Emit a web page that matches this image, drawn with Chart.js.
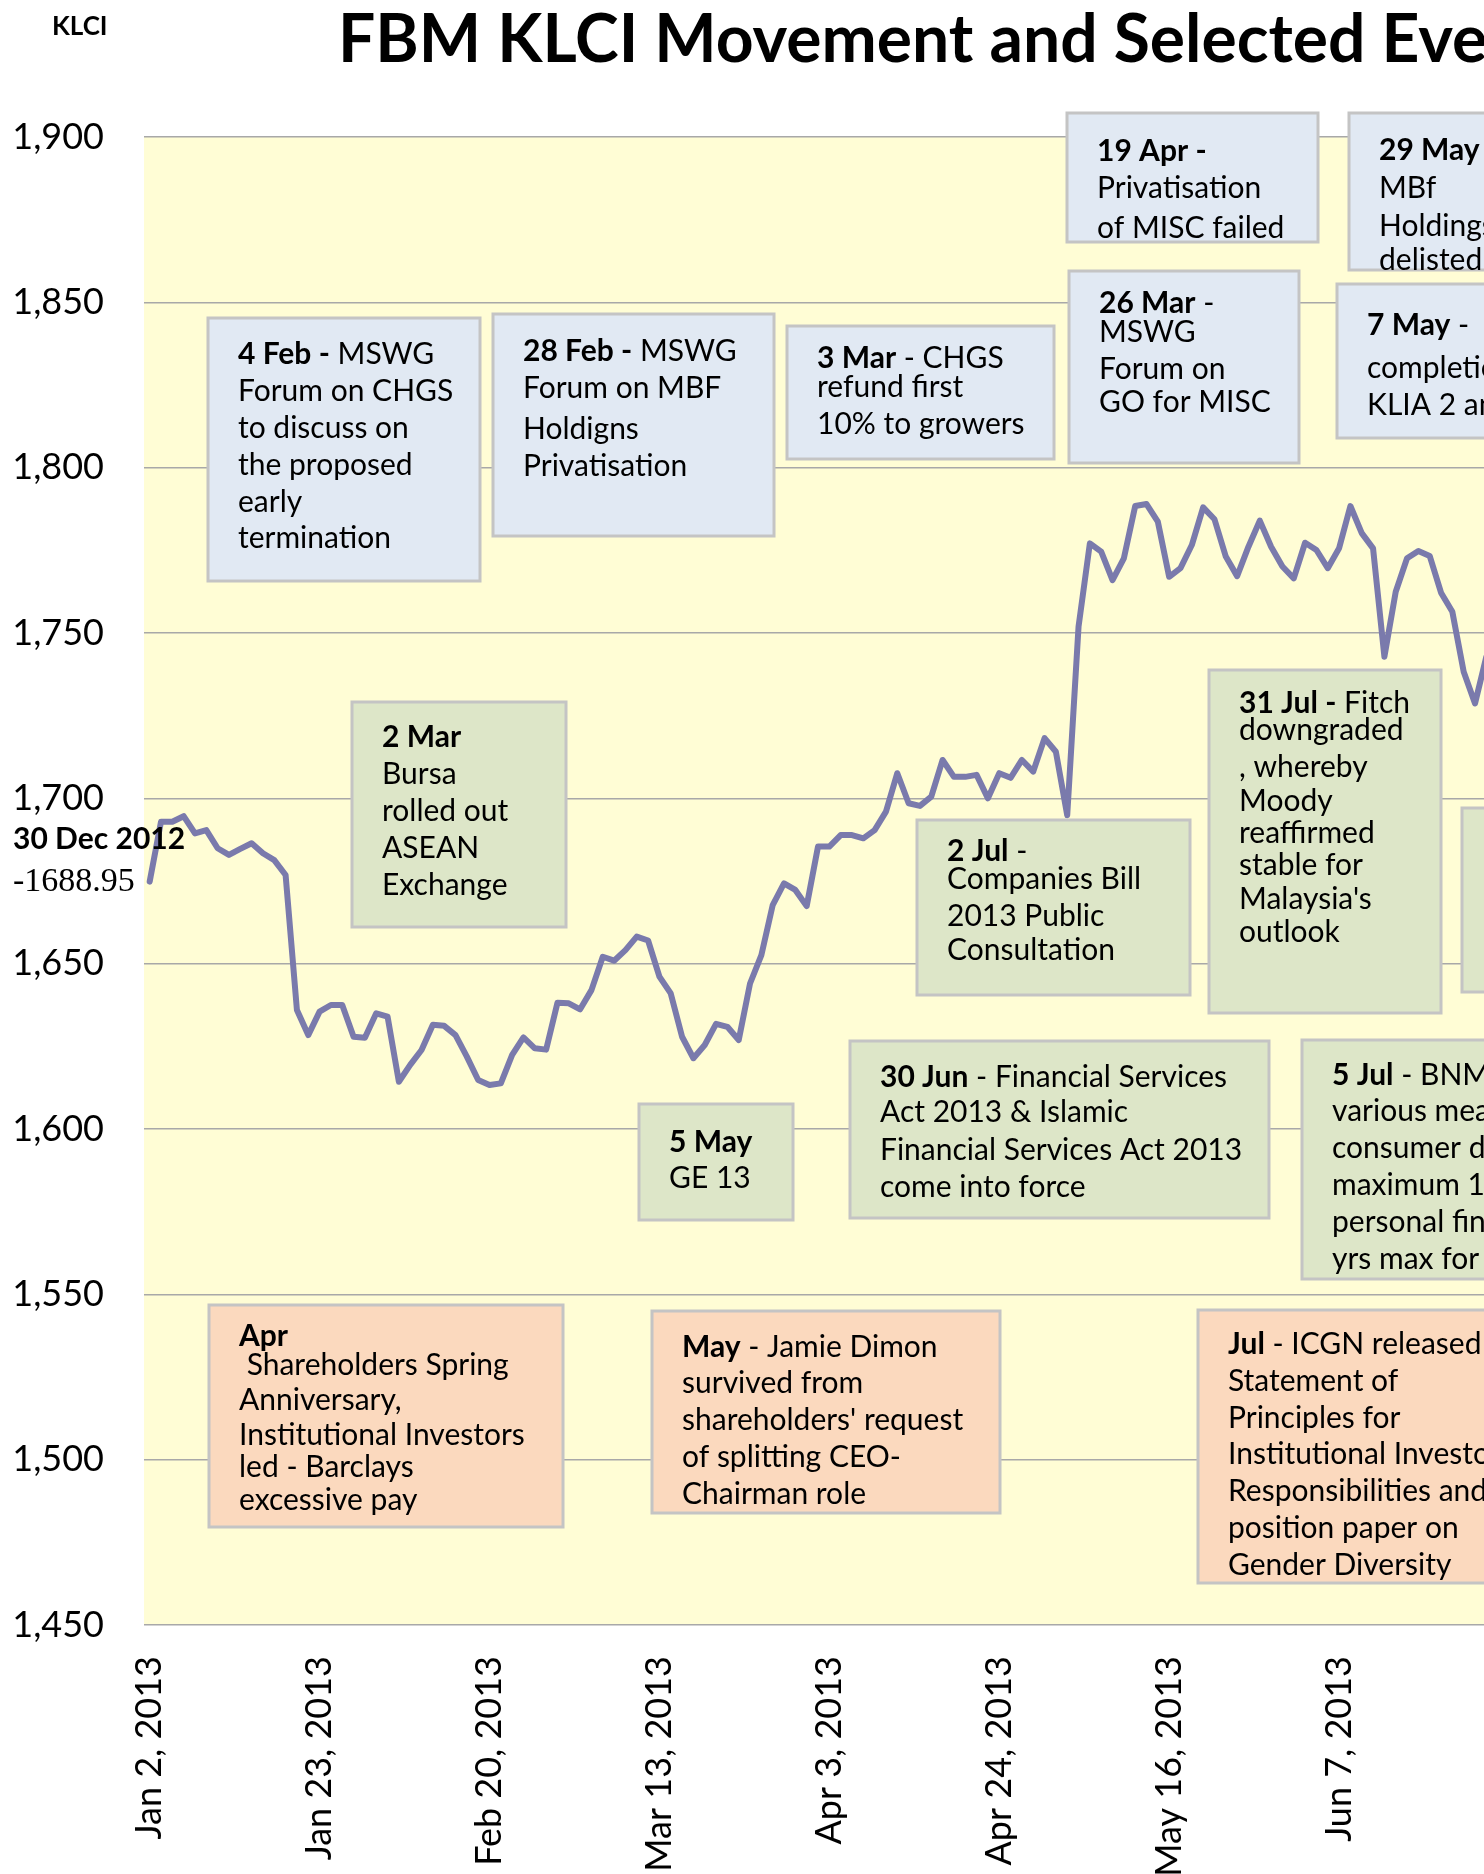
<!DOCTYPE html>
<html>
<head>
<meta charset="utf-8">
<title>FBM KLCI Movement and Selected Events</title>
<script src="https://cdn.jsdelivr.net/npm/chart.js@4.4.0/dist/chart.umd.min.js"></script>
<style>
  html, body { margin: 0; padding: 0; background: #fff; overflow: hidden; }
  #wrap { width: 1492px; height: 1874px; }
</style>
</head>
<body>
<div id="wrap"><canvas id="klci" width="1492" height="1874"></canvas></div>
<script>
// FBM KLCI daily close (first point is Jan 2, 2013)
const klciClose = [
  1674.8, 1692.9, 1692.9, 1694.6, 1689.4, 1690.4, 1684.9, 1682.9, 1684.7, 1686.4,
  1683.4, 1681.3, 1676.8, 1636.0, 1628.4, 1635.5, 1637.5, 1637.5, 1627.9, 1627.6,
  1635.0, 1634.0, 1614.3, 1619.4, 1623.9, 1631.5, 1631.2, 1628.4, 1621.9, 1614.8,
  1613.3, 1613.8, 1622.4, 1627.7, 1624.4, 1624.0, 1638.2, 1638.0, 1636.2, 1642.0,
  1652.1, 1650.9, 1654.1, 1658.2, 1657.0, 1646.1, 1641.0, 1627.9, 1621.4, 1625.4,
  1631.8, 1630.9, 1626.9, 1644.0, 1652.6, 1667.7, 1674.3, 1672.3, 1667.4, 1685.4,
  1685.4, 1688.9, 1688.9, 1687.9, 1690.4, 1696.0, 1707.6, 1698.5, 1697.7, 1700.5,
  1711.6, 1706.5, 1706.5, 1707.1, 1700.0, 1707.6, 1706.2, 1711.6, 1708.1, 1718.2,
  1714.1, 1694.9, 1751.9, 1777.1, 1774.6, 1766.0, 1772.6, 1788.4, 1789.0, 1783.7,
  1767.0, 1769.6, 1776.6, 1788.0, 1784.4, 1773.1, 1767.2, 1776.1, 1784.0, 1776.1,
  1770.1, 1766.5, 1777.3, 1775.1, 1769.6, 1775.6, 1788.4, 1780.2, 1775.6, 1742.8,
  1762.5, 1772.6, 1774.8, 1773.3, 1762.2, 1756.4, 1738.3, 1728.7, 1742.8
];

// axis shows one label every 15 trading days
const tickLabels = ['Jan 2, 2013', 'Jan 23, 2013', 'Feb 20, 2013', 'Mar 13, 2013',
                    'Apr 3, 2013', 'Apr 24, 2013', 'May 16, 2013', 'Jun 7, 2013'];
const tickEvery = 15;
const yTicks = { min: 1450, max: 1900, step: 50 };

const startNote = ['30 Dec 2012', '-1688.95'];

// event notes; **text** is bold
const eventText = [
  ['**4 Feb -** MSWG', 'Forum on CHGS', 'to discuss on', 'the proposed', 'early', 'termination'],
  ['**28 Feb -** MSWG', 'Forum on MBF', 'Holdigns', 'Privatisation'],
  ['**3 Mar** - CHGS', 'refund first', '10% to growers'],
  ['**19 Apr -**', 'Privatisation', 'of MISC failed'],
  ['**29 May** -', 'MBf', 'Holdings', 'delisted'],
  ['**26 Mar** -', 'MSWG', 'Forum on', 'GO for MISC'],
  ['**7 May** -', 'completion of', 'KLIA 2 and'],
  ['**2 Mar**', 'Bursa', 'rolled out', 'ASEAN', 'Exchange'],
  ['**2 Jul** -', 'Companies Bill', '2013 Public', 'Consultation'],
  ['**31 Jul -** Fitch', 'downgraded', ', whereby', 'Moody', 'reaffirmed', 'stable for', "Malaysia's", 'outlook'],
  [],
  ['**5 May**', 'GE 13'],
  ['**30 Jun** - Financial Services', 'Act 2013 & Islamic', 'Financial Services Act 2013', 'come into force'],
  ['**5 Jul** - BNM introduced', 'various measures on', 'consumer debt:', 'maximum 10 yrs for', 'personal financing', 'yrs max for property'],
  ['**Apr**', ' Shareholders Spring', 'Anniversary,', 'Institutional Investors', 'led - Barclays', 'excessive pay'],
  ['**May** - Jamie Dimon', 'survived from', "shareholders' request", 'of splitting CEO-', 'Chairman role'],
  ['**Jul** - ICGN released', 'Statement of', 'Principles for', 'Institutional Investors', 'Responsibilities and', 'position paper on', 'Gender Diversity']
];

// where each note sits on the canvas (px) and where its text rows are centred
const noteLayout = [
  { x: 208,  y: 318,  w: 272, h: 263, kind: 'blue',   rows: [36, 73, 110, 147, 184, 220] },
  { x: 493,  y: 314,  w: 281, h: 222, kind: 'blue',   rows: [37, 74, 115, 152] },
  { x: 787,  y: 326,  w: 267, h: 133, kind: 'blue',   rows: [32, 61, 98] },
  { x: 1067, y: 113,  w: 251, h: 129, kind: 'blue',   rows: [38, 75, 115] },
  { x: 1349, y: 113,  w: 170, h: 157, kind: 'blue',   rows: [37, 75, 113, 147] },
  { x: 1069, y: 271,  w: 230, h: 192, kind: 'blue',   rows: [32, 61, 98, 131] },
  { x: 1337, y: 284,  w: 180, h: 154, kind: 'blue',   rows: [41, 84, 121] },
  { x: 352,  y: 702,  w: 214, h: 225, kind: 'green',  rows: [35, 72, 109, 146, 183] },
  { x: 917,  y: 820,  w: 273, h: 175, kind: 'green',  rows: [31, 59, 96, 130] },
  { x: 1209, y: 670,  w: 232, h: 343, kind: 'green',  rows: [33, 60, 97, 131, 163, 195, 229, 262] },
  { x: 1462, y: 808,  w: 60,  h: 184, kind: 'green',  rows: [] },
  { x: 639,  y: 1104, w: 154, h: 116, kind: 'green',  rows: [38, 74] },
  { x: 850,  y: 1041, w: 419, h: 177, kind: 'green',  rows: [36, 71, 109, 146] },
  { x: 1302, y: 1040, w: 220, h: 239, kind: 'green',  rows: [35, 71, 108, 145, 182, 219] },
  { x: 209,  y: 1305, w: 354, h: 222, kind: 'orange', rows: [31, 60, 95, 130, 162, 195] },
  { x: 652,  y: 1311, w: 348, h: 202, kind: 'orange', rows: [36, 72, 109, 146, 183] },
  { x: 1198, y: 1310, w: 320, h: 273, kind: 'orange', rows: [34, 71, 108, 144, 181, 218, 255] }
];

const noteFill = { blue: '#E1E9F3', green: '#DDE6C8', orange: '#FBD9BE' };
const NOTE_FONT = '30px Lato';

const categories = klciClose.map((_, i) =>
  i % tickEvery === 0 ? (tickLabels[i / tickEvery] || '') : '');

function drawRich(ctx, line, x, y) {
  let cx = x;
  line.split('**').forEach((part, k) => {
    ctx.font = (k % 2 ? 'bold ' : '') + NOTE_FONT;
    ctx.fillText(part, cx, y);
    cx += ctx.measureText(part).width;
  });
}

const plotBackground = {
  id: 'plotBackground',
  beforeDraw(chart) {
    const { ctx, chartArea: a } = chart;
    ctx.save();
    ctx.fillStyle = '#FFFDD5';
    ctx.fillRect(a.left, a.top, a.right - a.left, a.bottom - a.top);
    ctx.restore();
  }
};

const eventNotes = {
  id: 'eventNotes',
  afterDatasetsDraw(chart) {
    const ctx = chart.ctx;
    ctx.save();
    noteLayout.forEach((b, i) => {
      ctx.fillStyle = noteFill[b.kind];
      ctx.fillRect(b.x, b.y, b.w, b.h);
      ctx.strokeStyle = '#C4C4C4';
      ctx.lineWidth = 3;
      ctx.strokeRect(b.x, b.y, b.w, b.h);
      ctx.fillStyle = '#000';
      ctx.textBaseline = 'middle';
      ctx.textAlign = 'left';
      (eventText[i] || []).forEach((line, r) => {
        if (b.rows[r] !== undefined) drawRich(ctx, line, b.x + 30, b.y + b.rows[r]);
      });
    });
    ctx.restore();
  }
};

const headerText = {
  id: 'headerText',
  afterDraw(chart) {
    const ctx = chart.ctx;
    ctx.save();
    ctx.fillStyle = '#000';
    ctx.textAlign = 'left';
    ctx.textBaseline = 'alphabetic';
    ctx.font = 'bold 26px Lato';
    ctx.fillText('KLCI', 52, 35);
    ctx.font = 'bold 66px Lato';
    ctx.fillText('FBM KLCI Movement and Selected Events', 338, 62);

    // note on the first point
    const meta = chart.getDatasetMeta(0);
    const py = meta.data[0].y;
    ctx.font = 'bold 30px Lato';
    ctx.fillText(startNote[0], 13, py - 33);
    ctx.font = '34px "Liberation Serif"';
    ctx.fillText(startNote[1], 13, py + 9);
    ctx.restore();
  }
};

new Chart(document.getElementById('klci'), {
  type: 'line',
  data: {
    labels: categories,
    datasets: [{
      label: 'FBM KLCI',
      data: klciClose,
      borderColor: '#7A7AAC',
      borderWidth: 6,
      borderJoinStyle: 'round',
      borderCapStyle: 'round',
      pointRadius: 0,
      tension: 0,
      fill: false
    }]
  },
  options: {
    responsive: false,
    animation: false,
    layout: { padding: { top: 137, left: 12, right: 0, bottom: 0 } },
    plugins: {
      legend: { display: false },
      tooltip: { enabled: false }
    },
    scales: {
      x: {
        offset: true,
        grid: { display: false },
        border: { display: false },
        ticks: {
          autoSkip: false,
          minRotation: 90,
          maxRotation: 90,
          padding: 23,
          color: '#000',
          font: { family: 'Lato', size: 36 }
        },
        afterFit: scale => {
          scale.height = 249;
          // the plot runs off the right edge, so no room is kept for labels
          scale.paddingLeft = 0;
          scale.paddingRight = 0;
        }
      },
      y: {
        min: yTicks.min,
        max: yTicks.max,
        grid: { color: '#A8A8A8', lineWidth: 1.5, drawTicks: false },
        border: { display: false },
        ticks: {
          stepSize: yTicks.step,
          padding: 40,
          color: '#000',
          font: { family: 'Lato', size: 36 },
          callback: v => v.toLocaleString('en-US')
        },
        afterFit: scale => { scale.width = 132; }
      }
    }
  },
  plugins: [plotBackground, eventNotes, headerText]
});
</script>
</body>
</html>
